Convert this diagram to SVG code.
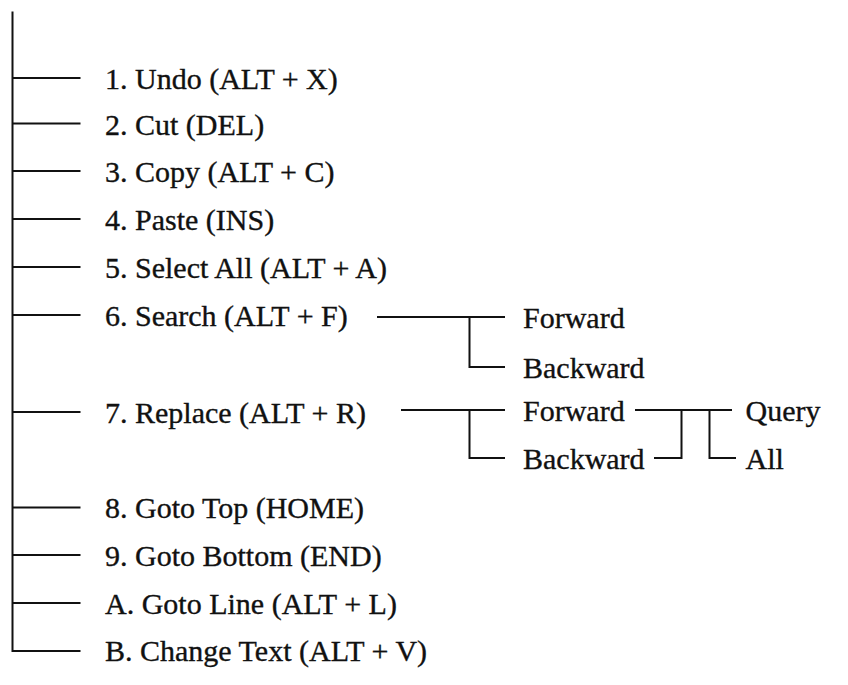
<svg xmlns="http://www.w3.org/2000/svg" width="848" height="685" viewBox="0 0 848 685">
<style>
  .t { font-family: "Liberation Serif", "Times New Roman", serif; font-size: 30px; fill: #111; stroke: #111; stroke-width: 0.35; }
  .c { fill: none; stroke: #111; stroke-width: 2; }
</style>
<rect width="848" height="685" fill="#fff"/>
<g id="connectors" class="c">
  <path d="M12.5 11.5 V651 H80.5"/>
  <path d="M12.5 78 H80.5 M12.5 123.5 H80.5 M12.5 171 H80.5 M12.5 219 H80.5 M12.5 267 H80.5 M12.5 315 H80.5 M12.5 412 H80.5 M12.5 507.5 H80.5 M12.5 555 H80.5 M12.5 603 H80.5"/>
  <path d="M377 317 H505 M469.5 317 V367 H505"/>
  <path d="M401 410 H505 M469.5 410 V458 H505"/>
  <path d="M635 410 H732 M681.5 410 V458 H654 M709.5 410 V458 H736"/>
</g>
<g id="n1"><text class="t" x="105" y="88.5">1. Undo (ALT + X)</text></g>
<g id="n2"><text class="t" x="105" y="134.5">2. Cut (DEL)</text></g>
<g id="n3"><text class="t" x="105" y="182">3. Copy (ALT + C)</text></g>
<g id="n4"><text class="t" x="105" y="229.5">4. Paste (INS)</text></g>
<g id="n5"><text class="t" x="105" y="278">5. Select All (ALT + A)</text></g>
<g id="n6"><text class="t" x="105" y="326">6. Search (ALT + F)</text></g>
<g id="n6f"><text class="t" x="523" y="328">Forward</text></g>
<g id="n6b"><text class="t" x="523" y="378">Backward</text></g>
<g id="n7"><text class="t" x="105" y="423">7. Replace (ALT + R)</text></g>
<g id="n7f"><text class="t" x="523" y="421">Forward</text></g>
<g id="n7b"><text class="t" x="523" y="468.5">Backward</text></g>
<g id="n7q"><text class="t" x="745.5" y="421">Query</text></g>
<g id="n7a"><text class="t" x="745.5" y="468.5">All</text></g>
<g id="n8"><text class="t" x="105" y="518">8. Goto Top (HOME)</text></g>
<g id="n9"><text class="t" x="105" y="566">9. Goto Bottom (END)</text></g>
<g id="nA"><text class="t" x="105" y="613.5">A. Goto Line (ALT + L)</text></g>
<g id="nB"><text class="t" x="105" y="661">B. Change Text (ALT + V)</text></g>
</svg>
